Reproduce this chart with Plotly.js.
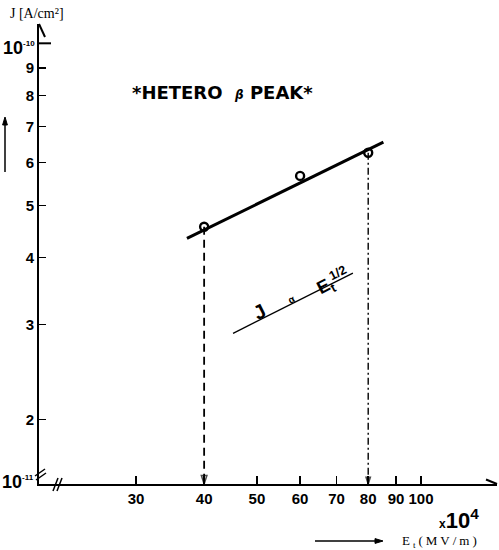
<!DOCTYPE html>
<html><head><meta charset="utf-8">
<script src="https://cdn.plot.ly/plotly-3.0.1.min.js"></script>
<style>html,body{margin:0;padding:0;background:#fff}#chart{width:499px;height:550px}</style>
</head><body><div id="chart"></div>
<script>
// ---- data ----
const fieldE   = [40, 60, 80];                    // E_t (x10^4 MV/m)
const currentJ = [4.56e-11, 5.67e-11, 6.26e-11];  // J (A/cm^2)
const fitE = [37.2, 85.3];
const fitJ = [4.34e-11, 6.55e-11];
const guideE = [45.2, 75.0];
const guideJ = [2.89e-11, 3.74e-11];
const xTickVals = [30, 40, 50, 60, 70, 80, 90, 100];
const xTickText = ['30', '40', '50', '60', '70', '80', '90', '100'];
const yTickVals = [2e-11, 3e-11, 4e-11, 5e-11, 6e-11, 7e-11, 8e-11, 9e-11];
const yTickText = ['2', '3', '4', '5', '6', '7', '8', '9'];
const yTop = 1e-10;
const dropIdx = [0, 2];

// ---- layout geometry ----
const W = 499, H = 550, L = 39, R = 2, T = 24, B = 66;
const pw = W - L - R, ph = H - T - B;
const X = p => (p - L) / pw;
const Y = p => (H - B - p) / ph;
const yRange = [-10.8191, -9.9641];
const xRange = [1.2991, 2.1394];
const yBottom = Math.pow(10, yRange[0]);

const traces = [];
traces.push({x: fitE, y: fitJ, mode: 'lines', line: {color: '#000', width: 3}, hoverinfo: 'skip'});
traces.push({x: guideE, y: guideJ, mode: 'lines', line: {color: '#000', width: 1.3}, hoverinfo: 'skip'});
dropIdx.forEach((i, k) => {
  traces.push({x: [fieldE[i], fieldE[i]], y: [currentJ[i], yBottom], mode: 'lines+markers',
    line: {color: '#000', width: k === 0 ? 1.8 : 1.4, dash: k === 0 ? '8px,5px' : '7px,3px,2px,3px', backoff: 0},
    marker: {symbol: k === 0 ? 'arrow-open' : 'arrow', angleref: 'previous', size: [0, k === 0 ? 9 : 7],
      color: '#000', line: {color: '#000', width: 1.5}},
    hoverinfo: 'skip'});
});
traces.push({x: fieldE, y: currentJ, mode: 'markers',
  marker: {symbol: 'circle-open', size: 8, color: '#000', line: {width: 2.4, color: '#000'}}});

const seg = (x0, y0, x1, y1, w) => ({type: 'line', xref: 'paper', yref: 'paper',
  x0: X(x0), y0: Y(y0), x1: X(x1), y1: Y(y1), line: {color: '#000', width: w}});
const tri = (pts) => ({type: 'path', xref: 'paper', yref: 'paper',
  path: 'M' + pts.map(p => X(p[0]) + ',' + Y(p[1])).join('L') + 'Z',
  fillcolor: '#000', line: {color: '#000', width: 1}});

const shapes = [
  seg(39, 24, 45, 37, 2),        // y axis arrow
  seg(497, 484, 486, 479.5, 2),  // x axis arrow
  seg(53, 491, 58, 478, 1.5), seg(57, 491, 62, 478, 1.5),   // x break
  seg(35, 476, 45, 469, 1.5), seg(36, 480, 46, 473, 1.5),   // y break
  {type: 'line', xref: 'paper', yref: 'y', x0: 0, x1: X(51), y0: yTop, y1: yTop, line: {color: '#000', width: 2}},
  // direction arrow beside the y axis
  seg(5, 172, 5, 123, 1.5), tri([[5, 117], [2.6, 125], [7.4, 125]]),
  // direction arrow under the x axis
  seg(315, 541, 377, 541, 1.3), tri([[383, 541], [375, 538.6], [375, 543.4]])
];

const sans = 'Liberation Sans, Arial, sans-serif';
const serif = 'Liberation Serif, Times New Roman, serif';
const txt = (x, y, text, font, extra) => Object.assign({xref: 'paper', yref: 'paper', x: X(x), y: Y(y),
  xanchor: 'center', yanchor: 'middle',
  text: text, showarrow: false, font: Object.assign({color: '#000'}, font)}, extra || {});

const annotations = [
  txt(37, 13, 'J [A/cm²]', {family: serif, size: 14}),
  txt(222, 92, '*HETERO&nbsp;&nbsp;<i><span style="font-size:12px">β</span></i>&nbsp;PEAK*', {family: 'DejaVu Sans', size: 18, weight: 'bold'}),
  txt(37, 48, '10<sup><span style="font-size:8px">-10</span></sup>', {family: sans, size: 18, weight: 'bold'}, {xanchor: 'right'}),
  txt(36, 482, '10<sup><span style="font-size:8px">-11</span></sup>', {family: sans, size: 18, weight: 'bold'}, {xanchor: 'right'}),
  txt(259, 312, 'J', {family: sans, size: 20, weight: 'bold'}, {textangle: -27}),
  txt(291, 299, 'α', {family: sans, size: 10, weight: 'bold'}, {textangle: -27}),
  txt(333, 281, 'E<sub>t</sub><sup>1/2</sup>', {family: sans, size: 18, weight: 'bold'}, {textangle: -27}),
  txt(459, 519, '<span style="font-size:12px">x</span>10<sup>4</sup>', {family: sans, size: 22, weight: 'bold'}),
  txt(441, 541, '<span style="letter-spacing:3px">E<sub>t</sub>(MV/m)</span>', {family: serif, size: 13})
];

const layout = {
  width: W, height: H, margin: {l: L, r: R, t: T, b: B},
  paper_bgcolor: '#fff', plot_bgcolor: '#fff', showlegend: false,
  xaxis: {type: 'log', range: xRange, tickvals: xTickVals, ticktext: xTickText,
    ticks: 'inside', ticklen: 8, tickwidth: 1.5, tickcolor: '#000',
    showline: true, linecolor: '#000', linewidth: 2, showgrid: false, zeroline: false,
    tickfont: {family: sans, size: 15, weight: 'bold', color: '#000'}},
  yaxis: {type: 'log', range: yRange, tickvals: yTickVals, ticktext: yTickText,
    ticks: 'inside', ticklen: 7, tickwidth: 1.5, tickcolor: '#000',
    showline: true, linecolor: '#000', linewidth: 2, showgrid: false, zeroline: false,
    tickfont: {family: sans, size: 15, weight: 'bold', color: '#000'}},
  shapes: shapes, annotations: annotations
};

Plotly.newPlot('chart', traces, layout, {staticPlot: true, displayModeBar: false});
</script></body></html>
